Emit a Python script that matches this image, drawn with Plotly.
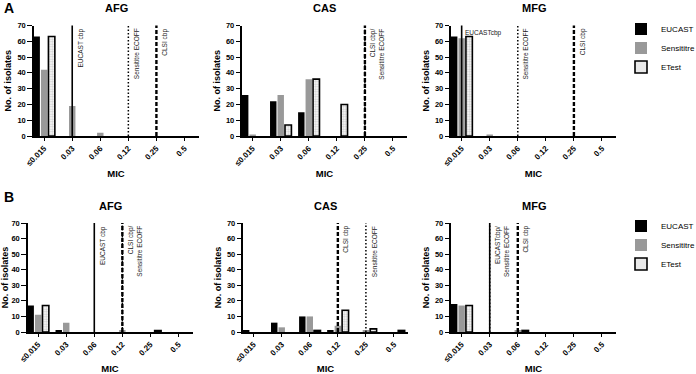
import plotly.graph_objects as go

# ---------------- data ----------------
MIC = ["≤0.015", "0.03", "0.06", "0.12", "0.25", "0.5"]
SERIES = ["EUCAST", "Sensititre", "ETest"]

A_AFG_EUCAST = [63, 0, 0, 0, 0, 0]
A_AFG_SENS = [42, 19, 2, 0, 0, 0]
A_AFG_ETEST = [63, 0, 0, 0, 0, 0]

A_CAS_EUCAST = [26, 22, 15, 0, 0, 0]
A_CAS_SENS = [1, 26, 36, 0, 0, 0]
A_CAS_ETEST = [0, 7, 36, 20, 0, 0]

A_MFG_EUCAST = [63, 0, 0, 0, 0, 0]
A_MFG_SENS = [62, 1, 0, 0, 0, 0]
A_MFG_ETEST = [63, 0, 0, 0, 0, 0]

B_AFG_EUCAST = [17, 1, 0, 0, 0, 0]
B_AFG_SENS = [11, 6, 0, 1, 0, 0]
B_AFG_ETEST = [17, 0, 0, 0, 1, 0]

B_CAS_EUCAST = [1, 6, 10, 1, 0, 0]
B_CAS_SENS = [0, 3, 10, 4, 1, 0]
B_CAS_ETEST = [0, 0, 1, 14, 2, 1]

B_MFG_EUCAST = [18, 0, 0, 0, 0, 0]
B_MFG_SENS = [17, 0, 1, 0, 0, 0]
B_MFG_ETEST = [17, 0, 1, 0, 0, 0]

# breakpoint lines: (MIC category, style) and labels: (MIC category, text, horizontal?)
A_AFG_LINES = [("0.03", "solid"), ("0.12", "dot"), ("0.25", "dash")]
A_AFG_LABELS = [("0.03", "EUCAST cbp", False), ("0.12", "Sensititre ECOFF", False), ("0.25", "CLSI cbp", False)]
A_CAS_LINES = [("0.25", "dash"), ("0.25", "dot")]
A_CAS_LABELS = [("0.25", "CLSI cbp/<br>Sensititre ECOFF", False)]
A_MFG_LINES = [("≤0.015", "solid"), ("0.06", "dot"), ("0.25", "dash")]
A_MFG_LABELS = [("≤0.015", "EUCASTcbp", True), ("0.06", "Sensititre ECOFF", False), ("0.25", "CLSI cbp", False)]
B_AFG_LINES = [("0.06", "solid"), ("0.12", "dash"), ("0.12", "dot")]
B_AFG_LABELS = [("0.06", "EUCAST cbp", False), ("0.12", "CLSI cbp/<br>Sensititre ECOFF", False)]
B_CAS_LINES = [("0.12", "dash"), ("0.25", "dot")]
B_CAS_LABELS = [("0.12", "CLSI cbp", False), ("0.25", "Sensititre ECOFF", False)]
B_MFG_LINES = [("0.03", "solid"), ("0.03", "dot"), ("0.06", "dash")]
B_MFG_LABELS = [("0.03", "EUCASTcbp/<br>Sensititre ECOFF", False), ("0.06", "CLSI cbp", False)]

W, H = 696, 374
FONT = "Liberation Sans, Arial, sans-serif"

panels = [
    # row, title, values, lines, labels, x-domain px, y-domain px
    ("A", "AFG", (A_AFG_EUCAST, A_AFG_SENS, A_AFG_ETEST), A_AFG_LINES, A_AFG_LABELS, (33.5, 198.5), (25.5, 136)),
    ("A", "CAS", (A_CAS_EUCAST, A_CAS_SENS, A_CAS_ETEST), A_CAS_LINES, A_CAS_LABELS, (242, 407), (25.5, 136)),
    ("A", "MFG", (A_MFG_EUCAST, A_MFG_SENS, A_MFG_ETEST), A_MFG_LINES, A_MFG_LABELS, (451, 616), (25.5, 136)),
    ("B", "AFG", (B_AFG_EUCAST, B_AFG_SENS, B_AFG_ETEST), B_AFG_LINES, B_AFG_LABELS, (27.5, 192.5), (223, 332)),
    ("B", "CAS", (B_CAS_EUCAST, B_CAS_SENS, B_CAS_ETEST), B_CAS_LINES, B_CAS_LABELS, (243, 408), (223, 332)),
    ("B", "MFG", (B_MFG_EUCAST, B_MFG_SENS, B_MFG_ETEST), B_MFG_LINES, B_MFG_LABELS, (451, 616), (223, 332)),
]

styles = {
    "EUCAST": dict(color="#000000", line=dict(width=0)),
    "Sensititre": dict(color="#999999", line=dict(width=0)),
    "ETest": dict(color="#ffffff", line=dict(width=1.6, color="#000000"),
                  pattern=dict(shape=".", fgcolor="#999999", bgcolor="#ffffff", size=2.5, solidity=0.5)),
}
dashes = {"solid": "solid", "dot": "1.5px,2px", "dash": "4px,2px"}
widths = {"solid": 1.6, "dot": 1.5, "dash": 2.4}

fig = go.Figure()
layout = dict(
    width=W, height=H, margin=dict(l=0, r=0, t=0, b=0, autoexpand=False),
    paper_bgcolor="white", plot_bgcolor="white",
    barmode="group", bargap=0.2, bargroupgap=0.14,
    font=dict(family=FONT, color="#000"),
    showlegend=True,
)
shapes, annotations = [], []

for i, (row, title, vals, lines, labels, (x0, x1), (yt, yb)) in enumerate(panels):
    n = "" if i == 0 else str(i + 1)
    xa, ya = "x" + n, "y" + n
    legend_name = "legend" if row == "A" else "legend2"
    for s, v in zip(SERIES, vals):
        fig.add_trace(go.Bar(
            x=MIC, y=[val if val else None for val in v], name=s,
            xaxis=xa, yaxis=ya, marker=styles[s],
            showlegend=(title == "AFG"), legend=legend_name,
        ))
    layout["xaxis" + n] = dict(
        domain=[x0 / W, x1 / W], anchor=ya, type="category", automargin=False,
        range=[-0.38, 5.5], showline=True, linewidth=1.5, linecolor="#000",
        ticks="outside", ticklen=3, tickwidth=1.3, tickcolor="#000",
        tickangle=-45, tickfont=dict(size=8, weight="bold", family=FONT),
        showgrid=False, zeroline=False,
        title=dict(text="MIC", font=dict(size=9.5, weight="bold", family=FONT), standoff=3),
    )
    layout["yaxis" + n] = dict(
        domain=[1 - yb / H, 1 - yt / H], anchor=xa, automargin=False,
        range=[0, 70], dtick=10, showline=True, linewidth=1.5, linecolor="#000",
        ticks="outside", ticklen=4.5, tickwidth=1.3, tickcolor="#000",
        tickfont=dict(size=7.5, weight="bold", family=FONT),
        showgrid=False, zeroline=False,
        title=dict(text="No. of isolates", font=dict(size=9, weight="bold", family=FONT), standoff=4),
    )
    # panel title
    annotations.append(dict(
        text=title, xref="paper", yref="paper", x=(x0 + x1) / 2 / W, y=1 - (yt - 17) / H,
        showarrow=False, font=dict(size=11, weight="bold", family=FONT), xanchor="center", yanchor="middle",
    ))
    # breakpoint lines
    for mic, st in lines:
        xi = MIC.index(mic)
        shapes.append(dict(
            type="line", xref=xa, yref=ya, x0=xi, x1=xi, y0=0, y1=70.5,
            line=dict(color="#000", width=widths[st], dash=dashes[st]), layer="above",
        ))
    for mic, txt, horiz in labels:
        xi = MIC.index(mic)
        if horiz:
            annotations.append(dict(
                text=txt, xref=xa, yref=ya, x=xi, y=69, xshift=1.5, showarrow=False,
                xanchor="left", yanchor="top", font=dict(size=6.5, color="#222", family=FONT),
            ))
        else:
            annotations.append(dict(
                text=txt, xref=xa, yref=ya, x=xi, y=69.5, xshift=2.5, showarrow=False,
                xanchor="left", yanchor="top", textangle=-90, align="right",
                font=dict(size=6.5, color="#222", family=FONT),
            ))

# panel letters
annotations.append(dict(text="A", xref="paper", yref="paper", x=2 / W, y=1 - 8 / H, showarrow=False,
                        xanchor="left", yanchor="middle", font=dict(size=14, weight="bold", family=FONT)))
annotations.append(dict(text="B", xref="paper", yref="paper", x=2 / W, y=1 - 197 / H, showarrow=False,
                        xanchor="left", yanchor="middle", font=dict(size=14, weight="bold", family=FONT)))

layout["shapes"] = shapes
layout["annotations"] = annotations
legend_common = dict(xanchor="left", yanchor="top", bgcolor="rgba(0,0,0,0)", tracegroupgap=0,
                     font=dict(size=8, family=FONT), itemclick=False, itemdoubleclick=False)
layout["legend"] = dict(x=621 / W, y=1 - 14.5 / H, **legend_common)
layout["legend2"] = dict(x=621 / W, y=1 - 211.5 / H, **legend_common)

fig.update_layout(**layout)
fig.write_html("out.html", config={"displayModeBar": False},
               post_script="document.body.style.margin='0px';")
